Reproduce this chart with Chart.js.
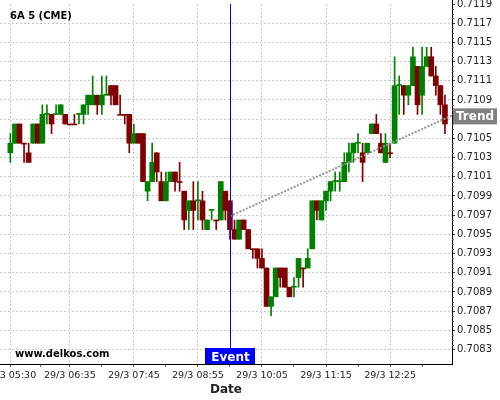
<!DOCTYPE html>
<html>
<head>
<meta charset="utf-8">
<script src="https://cdn.jsdelivr.net/npm/chart.js@4.4.1/dist/chart.umd.min.js"></script>
<style>
html,body{margin:0;padding:0;background:#fff;}
#chart{display:block;}
</style>
</head>
<body>
<canvas id="chart" width="500" height="400"></canvas>
<script>
// 5 minute candles, 29/3
const times=[
 "05:30","05:35","05:40","05:45","05:50","05:55",
 "06:00","06:05","06:10","06:15","06:20","06:25","06:30","06:35","06:40","06:45","06:50","06:55",
 "07:00","07:05","07:10","07:15","07:20","07:25","07:30","07:35","07:40","07:45","07:50","07:55",
 "08:00","08:05","08:10","08:15","08:20","08:25","08:30","08:35","08:40","08:45","08:50","08:55",
 "09:00","09:05","09:10","09:15","09:20","09:25","09:30","09:35","09:40","09:45","09:50","09:55",
 "10:00","10:05","10:10","10:15","10:20","10:25","10:30","10:35","10:40","10:45","10:50","10:55",
 "11:00","11:05","11:10","11:15","11:20","11:25","11:30","11:35","11:40","11:45","11:50","11:55",
 "12:00","12:05","12:10","12:15","12:20","12:25","12:30","12:35","12:40","12:45","12:50","12:55",
 "13:00","13:05","13:10","13:15","13:20","13:25"];
const opens=[
 0.71035,0.71045,0.71065,0.71045,0.71035,0.71045,0.71065,0.71045,0.71075,0.71075,0.71075,0.71075,
 0.71075,0.71065,0.71065,0.71075,0.71075,0.71085,0.71085,0.71095,0.71085,0.71095,0.71105,0.71105,
 0.71075,0.71075,0.71075,0.71045,0.71055,0.71055,0.70995,0.71005,0.71035,0.71005,0.70985,0.71005,
 0.71015,0.71005,0.70995,0.70975,0.70985,0.70985,0.70985,0.70955,0.70975,0.70965,0.70965,0.70995,
 0.70985,0.70955,0.70945,0.70965,0.70955,0.70935,0.70935,0.70925,0.70915,0.70875,0.70885,0.70915,
 0.70915,0.70895,0.70895,0.70905,0.70915,0.70915,0.70935,0.70985,0.70965,0.70985,0.70995,0.71005,
 0.71005,0.71005,0.71025,0.71035,0.71045,0.71035,0.71035,0.71055,0.71065,0.71045,0.71025,0.71035,
 0.71045,0.71105,0.71105,0.71095,0.71105,0.71125,0.71095,0.71125,0.71135,0.71115,0.71105,0.71085];
const highs=[
 0.71055,0.71065,0.71065,0.71045,0.71045,0.71065,0.71065,0.71085,0.71085,0.71075,0.71085,0.71085,
 0.71075,0.71065,0.71075,0.71075,0.71085,0.71095,0.71115,0.71095,0.71115,0.71115,0.71105,0.71105,
 0.71095,0.71075,0.71075,0.71065,0.71055,0.71055,0.71005,0.71045,0.71035,0.71015,0.71015,0.71015,
 0.71015,0.71025,0.70995,0.70985,0.71005,0.71005,0.70995,0.70965,0.70975,0.70965,0.71005,0.70995,
 0.70985,0.70965,0.70965,0.70965,0.70955,0.70935,0.70935,0.70935,0.70915,0.70885,0.70915,0.70915,
 0.70915,0.70895,0.70905,0.70925,0.70915,0.70935,0.70985,0.70985,0.70985,0.70995,0.71005,0.71015,
 0.71015,0.71035,0.71045,0.71045,0.71055,0.71045,0.71045,0.71065,0.71075,0.71055,0.71055,0.71045,
 0.71135,0.71115,0.71105,0.71105,0.71145,0.71125,0.71145,0.71145,0.71145,0.71125,0.71105,0.71095];
const lows=[
 0.71025,0.71045,0.71045,0.71025,0.71025,0.71045,0.71045,0.71045,0.71065,0.71055,0.71075,0.71075,
 0.71065,0.71065,0.71065,0.71065,0.71065,0.71075,0.71085,0.71075,0.71075,0.71095,0.71085,0.71085,
 0.71075,0.71065,0.71035,0.71045,0.71045,0.71005,0.70985,0.71005,0.71005,0.70985,0.70985,0.71005,
 0.70995,0.70995,0.70955,0.70955,0.70955,0.70965,0.70955,0.70955,0.70965,0.70955,0.70965,0.70965,
 0.70945,0.70945,0.70945,0.70955,0.70935,0.70925,0.70915,0.70915,0.70875,0.70865,0.70885,0.70895,
 0.70895,0.70885,0.70885,0.70895,0.70895,0.70915,0.70935,0.70965,0.70965,0.70975,0.70985,0.70995,
 0.70995,0.71005,0.71015,0.71025,0.71035,0.71005,0.71035,0.71055,0.71055,0.71035,0.71025,0.71030,
 0.71045,0.71075,0.71075,0.71085,0.71105,0.71075,0.71075,0.71125,0.71115,0.71095,0.71075,0.71055];
const closes=[
 0.71045,0.71065,0.71045,0.71044,0.71025,0.71065,0.71045,0.71075,0.71075,0.71065,0.71075,0.71085,
 0.71065,0.71064,0.71064,0.71075,0.71085,0.71095,0.71095,0.71085,0.71095,0.71095,0.71095,0.71085,
 0.71074,0.71074,0.71045,0.71055,0.71045,0.71005,0.71005,0.71025,0.71015,0.70985,0.71005,0.71015,
 0.71005,0.71004,0.70965,0.70985,0.70975,0.70985,0.70965,0.70965,0.70975,0.70964,0.71005,0.70975,
 0.70955,0.70945,0.70965,0.70955,0.70935,0.70934,0.70925,0.70915,0.70875,0.70885,0.70915,0.70905,
 0.70895,0.70885,0.70895,0.70925,0.70914,0.70925,0.70985,0.70975,0.70985,0.70995,0.71005,0.71005,
 0.71005,0.71025,0.71035,0.71045,0.71045,0.71025,0.71045,0.71065,0.71055,0.71035,0.71045,0.71034,
 0.71105,0.71105,0.71095,0.71105,0.71135,0.71085,0.71125,0.71135,0.71115,0.71105,0.71085,0.71065];

const xTickTimes=["05:30","06:35","07:45","08:55","10:05","11:15","12:25"];
const xTickLabels=["29/3 05:30","29/3 06:35","29/3 07:45","29/3 08:55","29/3 10:05","29/3 11:15","29/3 12:25"];
const yTicks=[0.7083,0.7085,0.7087,0.7089,0.7091,0.7093,0.7095,0.7097,0.7099,0.7101,0.7103,0.7105,0.7107,0.7109,0.7111,0.7113,0.7115,0.7117,0.7119];

const eventTime="09:30";
const trendTimes=["09:30","13:33"];
const trendValues=[0.70969,0.71074];

const green="#008000", red="#800000";
const toMin=s=>{const p=s.split(":");return +p[0]*60 + +p[1];};
const xMin=318.7, xMax=812.7, yMin=0.70815, yMax=0.7119;
const colorOf=i=>closes[i]>=opens[i]?green:red;
const xs=times.map(toMin);
const majorX=xTickTimes.map(toMin);
const minorX=majorX.map((v,i)=>i<majorX.length-1?(v+majorX[i+1])/2:v+35);
const font="DejaVu Sans";

const overlay={
  id:"overlay",
  afterDraw(chart){
    const c=chart.ctx, a=chart.chartArea, xS=chart.scales.x, yS=chart.scales.y;
    c.save();
    // axis line runs up to the top edge
    c.strokeStyle="#000"; c.lineWidth=1;
    c.beginPath(); c.moveTo(a.right+0.5,0); c.lineTo(a.right+0.5,a.top); c.stroke();
    // minor y ticks
    c.strokeStyle="#666";
    for(let i=0;i<yTicks.length-1;i++){
      for(let k=1;k<4;k++){
        const py=Math.round(yS.getPixelForValue(yTicks[i]+k*0.00005))+0.5;
        c.beginPath(); c.moveTo(a.right,py); c.lineTo(a.right+2,py); c.stroke();
      }
    }
    // event line + label
    const ex=Math.round(xS.getPixelForValue(toMin(eventTime)))+0.5;
    c.strokeStyle="#0000e6";
    c.beginPath(); c.moveTo(ex,a.top); c.lineTo(ex,a.bottom-16); c.stroke();
    c.fillStyle="#0000ff";
    c.fillRect(ex-25.5,a.bottom-16,50,16);
    c.fillStyle="#fff"; c.font="bold 12px '"+font+"'";
    c.textAlign="center"; c.textBaseline="alphabetic";
    c.fillText("Event",ex,a.bottom-3);
    // trend label
    const ty=yS.getPixelForValue(trendValues[1]);
    c.fillStyle="#808080";
    c.fillRect(a.right+1,ty-7,44,16);
    c.fillStyle="#fff"; c.textAlign="left";
    c.fillText("Trend",a.right+4,ty+5);
    // texts
    c.fillStyle="#000"; c.font="bold 10px '"+font+"'";
    c.fillText("6A 5 (CME)",10,19);
    c.fillText("www.delkos.com",15,357);
    c.restore();
  }
};

new Chart(document.getElementById("chart"),{
  type:"bar",
  data:{datasets:[
    {type:"line",data:trendTimes.map((t,i)=>({x:toMin(t),y:trendValues[i]})),
     borderColor:"#959595",borderWidth:2,borderDash:[2,1.5],pointRadius:0,order:0},
    {data:xs.map((x,i)=>({x,y:[lows[i],highs[i]]})),
     backgroundColor:c=>colorOf(c.dataIndex),barThickness:1,grouped:false,order:2},
    {data:xs.map((x,i)=>({x,y:[opens[i],closes[i]]})),
     backgroundColor:c=>colorOf(c.dataIndex),barThickness:5,minBarLength:1,grouped:false,order:1}
  ]},
  options:{
    responsive:false,animation:false,devicePixelRatio:1,
    layout:{padding:{top:4,left:0,right:0,bottom:0}},
    plugins:{legend:{display:false},tooltip:{enabled:false}},
    scales:{
      x:{type:"linear",min:xMin,max:xMax,offset:false,
        afterBuildTicks:s=>{s.ticks=majorX.map(v=>({value:v,lab:true})).concat(minorX.map(v=>({value:v,lab:false})));},
        afterFit:s=>{s.paddingLeft=0;s.paddingRight=0;s.height=36;},
        ticks:{autoSkip:false,maxRotation:0,padding:3,color:"#222",font:{family:font,size:9.5},
          callback:v=>{const i=majorX.indexOf(v);return i>=0?xTickLabels[i]:"";}},
        grid:{offset:false,color:c=>c.tick&&c.tick.lab?"#c8c8c8":"rgba(0,0,0,0)",tickColor:"#666",tickLength:3,tickBorderDash:[]},
        border:{display:true,color:"#000",dash:[2,2]},
        title:{display:true,text:"Date",color:"#222",font:{family:font,size:12,weight:"bold"},padding:{top:0,bottom:3}}
      },
      y:{position:"right",min:yMin,max:yMax,beginAtZero:false,
        afterBuildTicks:s=>{s.ticks=yTicks.map(v=>({value:v}));},
        afterFit:s=>{s.width=48;s.paddingTop=0;s.paddingBottom=0;},
        ticks:{padding:2,color:"#222",font:{family:font,size:10},callback:v=>v.toFixed(4)},
        grid:{color:c=>c.tick&&c.tick.value<yMax-0.00001?"#c8c8c8":"rgba(0,0,0,0)",tickColor:"#444",tickLength:3,tickBorderDash:[]},
        border:{display:true,color:"#000",dash:[2,2]}
      }
    }
  },
  plugins:[overlay]
});
</script>
</body>
</html>
